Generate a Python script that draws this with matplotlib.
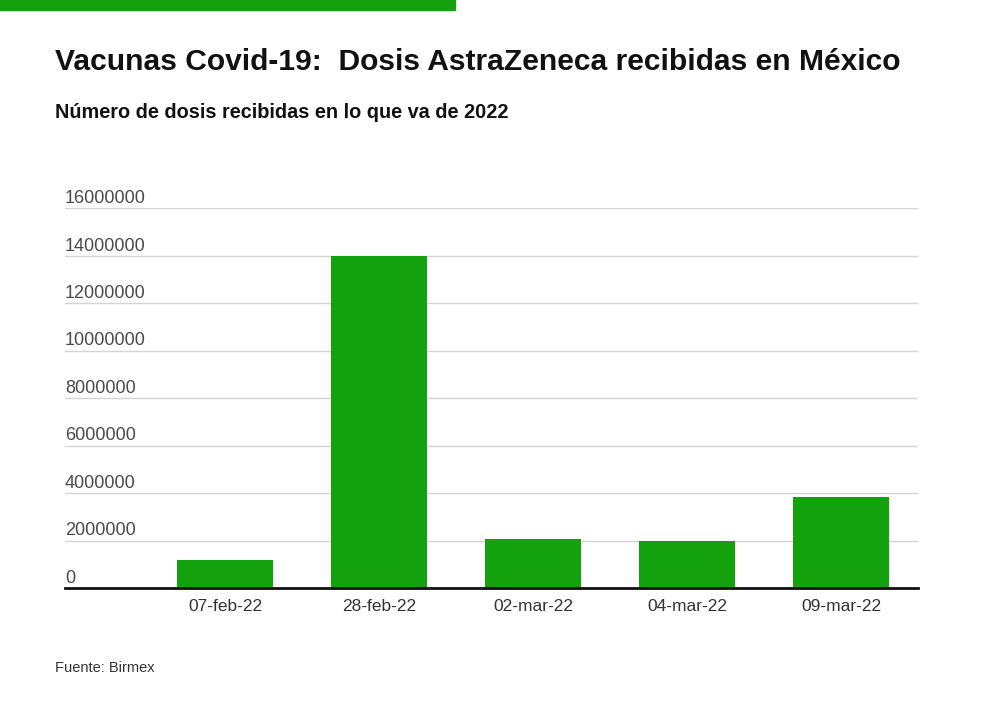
import matplotlib
matplotlib.use('Agg')
import matplotlib.pyplot as plt

# datos
fechas = ["07-feb-22", "28-feb-22", "02-mar-22", "04-mar-22", "09-mar-22"]
dosis = [1200000, 14000000, 2060000, 2000000, 3820000]
yticks = [0, 2000000, 4000000, 6000000, 8000000, 10000000, 12000000, 14000000, 16000000]

verde = "#13a10e"
plt.rcParams['font.family'] = ['Liberation Sans', 'DejaVu Sans']

fig = plt.figure(figsize=(10, 7.01), dpi=100)
ax = fig.add_axes([0.065, 0.161, 0.853, 0.542])

x = range(len(fechas))
ax.bar(x, dosis, width=0.62, color=verde, zorder=2)
ax.set_xlim(-1.04, 4.5)
ax.set_ylim(0, 16000000)

ax.set_xticks(list(x))
ax.set_xticklabels(fechas, fontsize=12.5, color="#333333")
ax.tick_params(axis='x', length=0, pad=8)
ax.set_yticks(yticks)
ax.set_yticklabels([])
ax.tick_params(axis='y', length=0)
for v in yticks:
    ax.text(0, v + 50000, str(v), transform=ax.get_yaxis_transform(),
            fontsize=13, color="#4a4a4a", ha='left', va='bottom')
    if v > 0:
        ax.axhline(v, color="#d4d4d4", lw=1, zorder=1)

for s in ['top', 'right', 'left']:
    ax.spines[s].set_visible(False)
ax.spines['bottom'].set_linewidth(2)
ax.spines['bottom'].set_color('#111111')
ax.spines['bottom'].set_zorder(3)

# barra verde superior
fig.patches.append(plt.Rectangle((0, 1 - 10 / 701), 0.455, 10 / 701,
                                 transform=fig.transFigure, color=verde))

fig.text(0.055, 0.9, "Vacunas Covid-19:  Dosis AstraZeneca recibidas en México",
         fontsize=21.6, fontweight='bold', color="#111111", va='baseline')
fig.text(0.055, 0.832, "Número de dosis recibidas en lo que va de 2022",
         fontsize=14.3, fontweight='bold', color="#111111", va='baseline')
fig.text(0.055, 0.041, "Fuente: Birmex", fontsize=10.5, color="#333333", va='baseline')

fig.savefig("out.png", dpi=100)
